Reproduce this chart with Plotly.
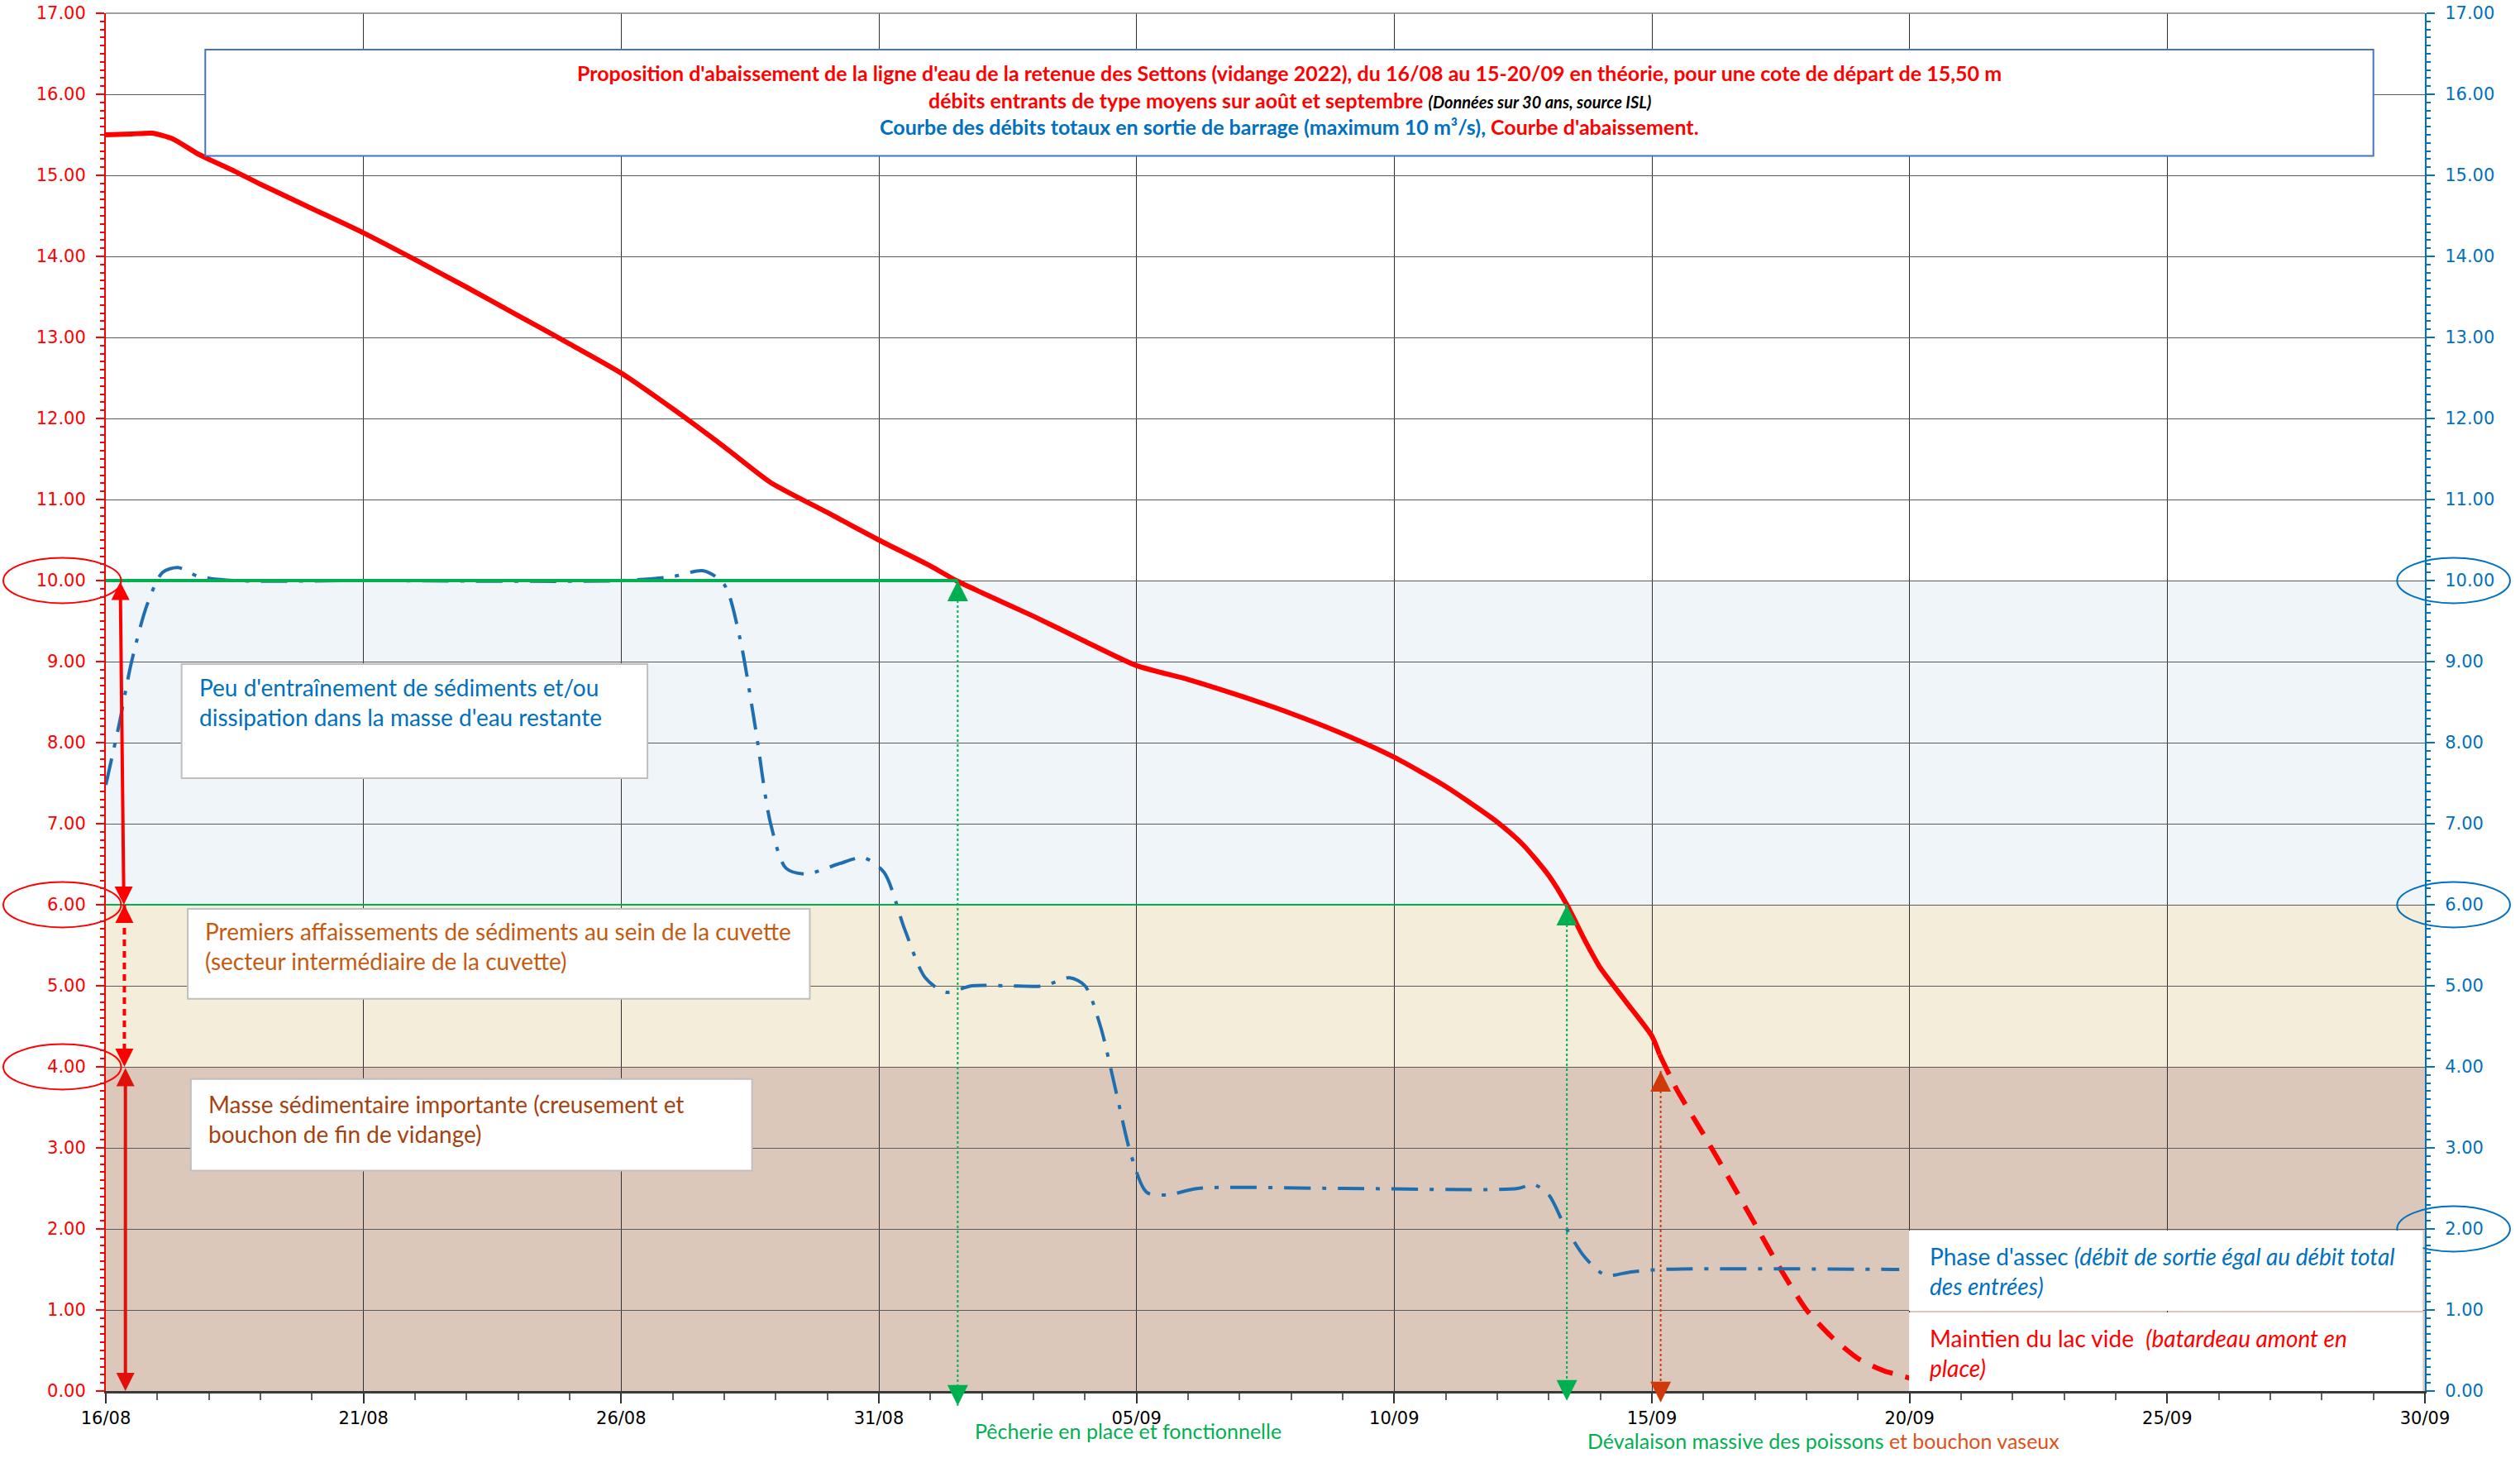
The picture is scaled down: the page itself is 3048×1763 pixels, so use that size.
import plotly.graph_objects as go

# ---------------- DATA ----------------
# x = days since 16/08
tick_days = [0, 5, 10, 15, 20, 25, 30, 35, 40, 45]
tick_labels = ["16/08", "21/08", "26/08", "31/08", "05/09", "10/09", "15/09", "20/09", "25/09", "30/09"]

# water level (m) - solid part
level_days = [0, 0.5, 0.9, 1.3, 1.8, 2.5, 3, 4, 5, 6, 7, 8, 9, 10, 11, 12, 12.9, 14, 15, 16, 16.5,
              17, 18, 19, 20, 21, 22, 23, 24, 25, 26, 27, 27.5, 28, 28.35, 28.7, 29, 29.5, 30, 30.15]
level_vals = [15.50, 15.51, 15.52, 15.45, 15.26, 15.05, 14.89, 14.59, 14.29, 13.96, 13.62, 13.27, 12.92,
              12.56, 12.12, 11.65, 11.21, 10.84, 10.50, 10.18, 10.00,
              9.85, 9.56, 9.25, 8.95, 8.78, 8.58, 8.36, 8.11, 7.82, 7.46, 7.02, 6.74, 6.36, 6.00,
              5.56, 5.22, 4.80, 4.38, 4.15]
# water level (m) - dashed projection
proj_days = [30.15, 30.5, 31, 31.5, 32, 32.5, 33, 33.5, 34, 34.5, 35]
proj_vals = [4.15, 3.70, 3.17, 2.62, 2.06, 1.50, 1.00, 0.66, 0.40, 0.25, 0.16]

# total outflow (m3/s)
flow_days = [0, 0.25, 0.5, 0.8, 1.1, 1.4, 1.8, 2.5, 5, 10, 11, 11.6, 12.0, 12.3, 12.6, 12.9, 13.2, 13.6,
             14.2, 14.7, 15.1, 15.5, 15.9, 16.3, 16.8, 17.5, 18.2, 18.7, 19.0, 19.3, 19.6, 19.9, 20.2,
             20.6, 21.2, 24, 27.4, 27.7, 28.0, 28.3, 28.7, 29.1, 29.6, 30.2, 34.8]
flow_vals = [7.48, 8.2, 9.0, 9.7, 10.1, 10.16, 10.05, 10.0, 10.0, 10.0, 10.05, 10.12, 9.95, 9.3, 8.2,
             7.0, 6.45, 6.38, 6.5, 6.58, 6.4, 5.7, 5.1, 4.92, 5.0, 5.0, 5.0, 5.1, 5.0, 4.5, 3.7, 2.9,
             2.45, 2.42, 2.5, 2.5, 2.5, 2.55, 2.42, 2.05, 1.65, 1.43, 1.47, 1.5, 1.5]

# thresholds (m)
thresholds = [10.0, 6.0, 4.0]
day_peche = 16.53      # pêcherie en place
day_devalaison = 28.35 # dévalaison massive
day_bouchon = 30.17    # bouchon vaseux

YMAX = 17.0
XMAX = 45

RED = "#FF0000"
BLUE = "#0070C0"
GREEN = "#00B050"
ORANGE = "#C55A11"
BROWN = "#A5420F"
FONT = "Lato"
TICKFONT = "DejaVu Sans"

fig = go.Figure()

# bands
band_cols = ["#F0F5FA", "#F3EDD9", "#DBC8BA"]
bounds = [(thresholds[1], thresholds[0]), (thresholds[2], thresholds[1]), (0, thresholds[2])]
for (y0, y1), c in zip(bounds, band_cols):
    fig.add_shape(type="rect", xref="x", yref="y", x0=0, x1=XMAX, y0=y0, y1=y1,
                  fillcolor=c, line_width=0, layer="below")

# traces
fig.add_trace(go.Scatter(x=flow_days, y=flow_vals, yaxis="y2", mode="lines",
                         line=dict(color="#1F6FB0", width=4, dash="32px,14px,5px,14px",
                                   shape="spline", smoothing=0.8),
                         showlegend=False))
fig.add_trace(go.Scatter(x=level_days, y=level_vals, mode="lines",
                         line=dict(color=RED, width=6, shape="spline", smoothing=0.6),
                         showlegend=False))
fig.add_trace(go.Scatter(x=proj_days, y=proj_vals, mode="lines",
                         line=dict(color=RED, width=6, dash="26px,16px", shape="spline", smoothing=0.6),
                         showlegend=False))

# green threshold lines
fig.add_shape(type="line", xref="x", yref="y", x0=0, x1=day_peche, y0=thresholds[0], y1=thresholds[0],
              line=dict(color=GREEN, width=4))
fig.add_shape(type="line", xref="x", yref="y", x0=0, x1=day_devalaison, y0=thresholds[1], y1=thresholds[1],
              line=dict(color=GREEN, width=2))

# vertical dotted arrows
def vline_arrow(xd, ytop, ybot, color, dash="dot", width=2):
    fig.add_shape(type="line", xref="x", yref="paper", x0=xd, x1=xd,
                  y0=ytop / YMAX, y1=ybot / YMAX, line=dict(color=color, width=width, dash=dash))
    for tip, tail in ((ytop, ytop - 0.25), (ybot, ybot + 0.25)):
        fig.add_annotation(x=xd, y=tip, ax=xd, ay=tail, axref="x", ayref="y", xref="x", yref="y",
                           text="", showarrow=True, arrowhead=2, arrowsize=2.0, arrowwidth=2.5,
                           arrowcolor=color, standoff=0)

vline_arrow(day_peche, thresholds[0], -0.18, GREEN)
vline_arrow(day_devalaison, thresholds[1], -0.12, GREEN)
vline_arrow(day_bouchon, thresholds[2] - 0.05, -0.14, "#D03A0A")

# left red arrows
fig.add_annotation(x=0.35, y=thresholds[1], ax=0.28, ay=thresholds[0], axref="x", ayref="y",
                   xref="x", yref="y", text="", showarrow=True, arrowhead=2, arrowside="end+start",
                   arrowsize=1.1, arrowwidth=4, arrowcolor=RED, standoff=0, startstandoff=0)
fig.add_shape(type="line", xref="x", yref="y", x0=0.36, x1=0.36, y0=thresholds[1], y1=thresholds[2],
              line=dict(color=RED, width=4, dash="8px,6px"))
for tip, tail in ((thresholds[1], thresholds[1] - 0.2), (thresholds[2], thresholds[2] + 0.2)):
    fig.add_annotation(x=0.36, y=tip, ax=0.36, ay=tail, axref="x", ayref="y", xref="x", yref="y",
                       text="", showarrow=True, arrowhead=2, arrowsize=1.1, arrowwidth=4,
                       arrowcolor=RED, standoff=0)
fig.add_annotation(x=0.38, y=0.0, ax=0.38, ay=thresholds[2], axref="x", ayref="y",
                   xref="x", yref="y", text="", showarrow=True, arrowhead=2, arrowside="end+start",
                   arrowsize=1.1, arrowwidth=4, arrowcolor="#E0100A", standoff=0, startstandoff=0)

# ellipses around tick labels
for v in thresholds:
    fig.add_shape(type="circle", xref="paper", yref="paper", x0=-0.0442, x1=0.0066,
                  y0=v / YMAX - 0.0165, y1=v / YMAX + 0.0165, line=dict(color=RED, width=2))
for v in (10.0, 6.0, 2.0):
    fig.add_shape(type="circle", xref="paper", yref="paper", x0=0.988, x1=1.0367,
                  y0=v / YMAX - 0.0165, y1=v / YMAX + 0.0165, line=dict(color=BLUE, width=2))

# text boxes
def box(x0, x1, y0, y1, border):
    fig.add_shape(type="rect", xref="x", yref="y", x0=x0, x1=x1, y0=y0, y1=y1,
                  fillcolor="white", line=dict(color=border, width=2 if border != "white" else 0),
                  layer="above")

box(1.93, 44.0, 15.24, 16.55, "#4472C4")
box(1.47, 10.51, 7.56, 8.97, "#BFBFBF")
box(1.59, 13.66, 4.84, 5.95, "#BFBFBF")
box(1.65, 12.54, 2.72, 3.85, "#BFBFBF")
box(34.99, 44.96, 0.99, 1.98, "white")
box(34.99, 44.96, 0.0, 0.97, "white")

def txt(x, y, s, color, size=28, xanchor="left"):
    fig.add_annotation(x=x, y=y, xref="x", yref="y", text=s, showarrow=False, xanchor=xanchor,
                       yanchor="middle", align="left" if xanchor == "left" else "center",
                       font=dict(family=FONT, size=size, color=color))

title_x = 22.97
txt(title_x, 16.27, "<b>Proposition d'abaissement de la ligne d'eau de la retenue des Settons (vidange 2022), "
    "du 16/08 au 15-20/09 en théorie, pour une cote de départ de 15,50 m</b>", RED, 25, "center")
txt(title_x, 15.93, "<b>débits entrants de type moyens sur août et septembre </b>"
    "<b><i><span style='color:black;font-size:20px'>(Données sur 30 ans, source ISL)</span></i></b>",
    RED, 25, "center")
txt(title_x, 15.60, "<b><span style='color:#0070C0'>Courbe des débits totaux en sortie de barrage "
    "(maximum 10 m³/s), </span>Courbe d'abaissement.</b>", RED, 25, "center")

txt(1.78, 8.495, "Peu d'entraînement de sédiments et/ou<br>dissipation dans la masse d'eau restante", BLUE)
txt(1.90, 5.49, "Premiers affaissements de sédiments au sein de la cuvette<br>(secteur intermédiaire de la cuvette)", ORANGE)
txt(1.96, 3.36, "Masse sédimentaire importante (creusement et<br>bouchon de fin de vidange)", BROWN)
txt(35.36, 1.48, "Phase d'assec <i>(débit de sortie égal au débit total</i><br><i>des entrées)</i>", BLUE)
txt(35.36, 0.466, "Maintien du lac vide  <i>(batardeau amont en</i><br><i>place)</i>", RED)

# labels below axis
fig.add_annotation(x=19.83, y=-0.029, xref="x", yref="paper", text="Pêcherie en place et fonctionnelle",
                   showarrow=False, xanchor="center", yanchor="middle",
                   font=dict(family=FONT, size=25, color=GREEN))
fig.add_annotation(x=33.33, y=-0.036, xref="x", yref="paper",
                   text="Dévalaison massive des poissons <span style='color:#E0501A'>et bouchon vaseux</span>",
                   showarrow=False, xanchor="center", yanchor="middle",
                   font=dict(family=FONT, size=25, color=GREEN))

# top border
fig.add_shape(type="line", xref="paper", yref="paper", x0=0, x1=1, y0=1, y1=1,
              line=dict(color="#7F7F7F", width=1.5))

yticks = list(range(0, 18))
fig.update_layout(
    width=3048, height=1763, autosize=False,
    margin=dict(l=128, r=115, t=16, b=81),
    paper_bgcolor="white", plot_bgcolor="white",
    showlegend=False,
    xaxis=dict(range=[0, XMAX], tickmode="array", tickvals=tick_days, ticktext=tick_labels,
               showgrid=True, gridcolor="#303030", gridwidth=1, automargin=False,
               showline=True, linecolor="#3A3A3A", linewidth=3,
               ticks="outside", ticklen=12, tickcolor="#303030", tickwidth=1.5,
               minor=dict(dtick=1, ticklen=8, tickcolor="#606060", showgrid=False, ticks="outside"),
               tickfont=dict(family=TICKFONT, size=21, color="black"), zeroline=False),
    yaxis=dict(range=[0, YMAX], tickmode="array", tickvals=yticks, tickformat=".2f",
               showgrid=True, gridcolor="#5A5A5A", gridwidth=1, automargin=False,
               showline=True, linecolor=RED, linewidth=2,
               ticks="outside", ticklen=10, tickcolor=RED, tickwidth=1.5,
               minor=dict(dtick=0.1, ticklen=5, tickcolor=RED, showgrid=False, ticks="outside"),
               tickfont=dict(family=TICKFONT, size=21, color=RED), zeroline=False,
               ticklabelstandoff=8),
    yaxis2=dict(range=[0, YMAX], overlaying="y", side="right", tickmode="array", tickvals=yticks,
                tickformat=".2f", showgrid=False, showline=True, linecolor=BLUE, linewidth=2,
                ticks="outside", ticklen=10, tickcolor=BLUE, tickwidth=1.5, automargin=False,
                minor=dict(dtick=0.1, ticklen=5, tickcolor=BLUE, ticks="outside"),
                tickfont=dict(family=TICKFONT, size=21, color=BLUE), zeroline=False,
                ticklabelstandoff=8),
)

fig.write_html("out.html", config={"displayModeBar": False},
               post_script="document.body.style.margin='0';document.body.style.overflow='hidden';")
